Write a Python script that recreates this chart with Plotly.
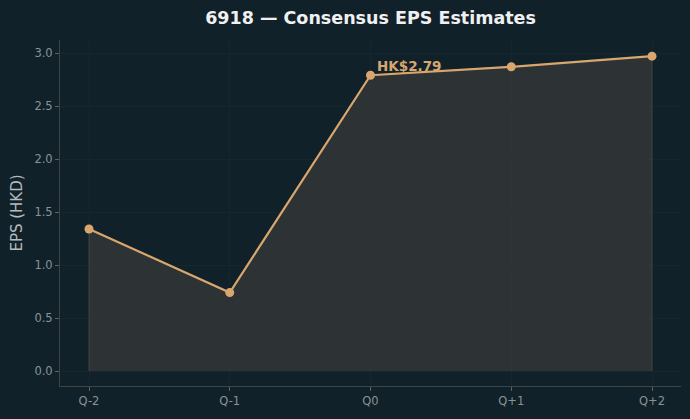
import plotly.graph_objects as go

quarters = ["Q-2", "Q-1", "Q0", "Q+1", "Q+2"]
eps = [1.34, 0.74, 2.79, 2.87, 2.97]
y_ticks = [0.0, 0.5, 1.0, 1.5, 2.0, 2.5, 3.0]
title = "6918 — Consensus EPS Estimates"
highlight_idx = 2

BG = "#10212a"
LINE = "#d9a66e"
GRID = "#16262e"
TICK = "#8a9296"
FONT = "DejaVu Sans"

xi = list(range(len(quarters)))

fig = go.Figure()
# shaded area polygon with outline
fig.add_trace(go.Scatter(
    x=[xi[0]] + xi + [xi[-1]],
    y=[0] + eps + [0],
    mode="lines", fill="toself",
    fillcolor="rgba(62,62,58,0.65)",
    line=dict(color="rgba(85,85,72,0.6)", width=1),
    hoverinfo="skip", showlegend=False,
))
fig.add_trace(go.Scatter(
    x=xi, y=eps, mode="lines+markers",
    line=dict(color=LINE, width=2.2),
    marker=dict(size=9, color=LINE),
    showlegend=False,
))

fig.add_annotation(
    x=xi[highlight_idx], y=eps[highlight_idx],
    text=f"<b>HK${eps[highlight_idx]:.2f}</b>",
    showarrow=False, xanchor="left", yanchor="bottom",
    xshift=4, yshift=-1,
    font=dict(family=FONT, size=13.5, color=LINE),
)

fig.update_layout(
    width=690, height=419,
    paper_bgcolor=BG, plot_bgcolor=BG,
    margin=dict(l=60, r=9, t=40, b=33),
    title=dict(text=f"<b>{title}</b>", x=0.537, xanchor="center", y=0.957, yanchor="middle",
               font=dict(family=FONT, size=17.5, color="#f0f0f0")),
    font=dict(family=FONT, color=TICK, size=11),
    xaxis=dict(
        range=[-0.206, 4.206], tickmode="array", tickvals=xi, ticktext=quarters,
        showgrid=True, gridcolor=GRID, gridwidth=1, zeroline=False,
        showline=True, linecolor="#3c4446", linewidth=1,
        ticks="outside", ticklen=4, tickcolor="#5a6264",
        tickfont=dict(family=FONT, size=11.5, color=TICK),
    ),
    yaxis=dict(
        range=[-0.1415, 3.1226], tickmode="array", tickvals=y_ticks,
        ticktext=[f"{v:.1f}" for v in y_ticks],
        showgrid=True, gridcolor=GRID, gridwidth=1, zeroline=False,
        showline=True, linecolor="#3c4446", linewidth=1,
        ticks="outside", ticklen=4, tickcolor="#5a6264",
        tickfont=dict(family=FONT, size=11.5, color=TICK),
        title=dict(text="EPS (HKD)", font=dict(family=FONT, size=15, color="#b4babd"), standoff=8),
    ),
)

fig.write_html("out.html")
